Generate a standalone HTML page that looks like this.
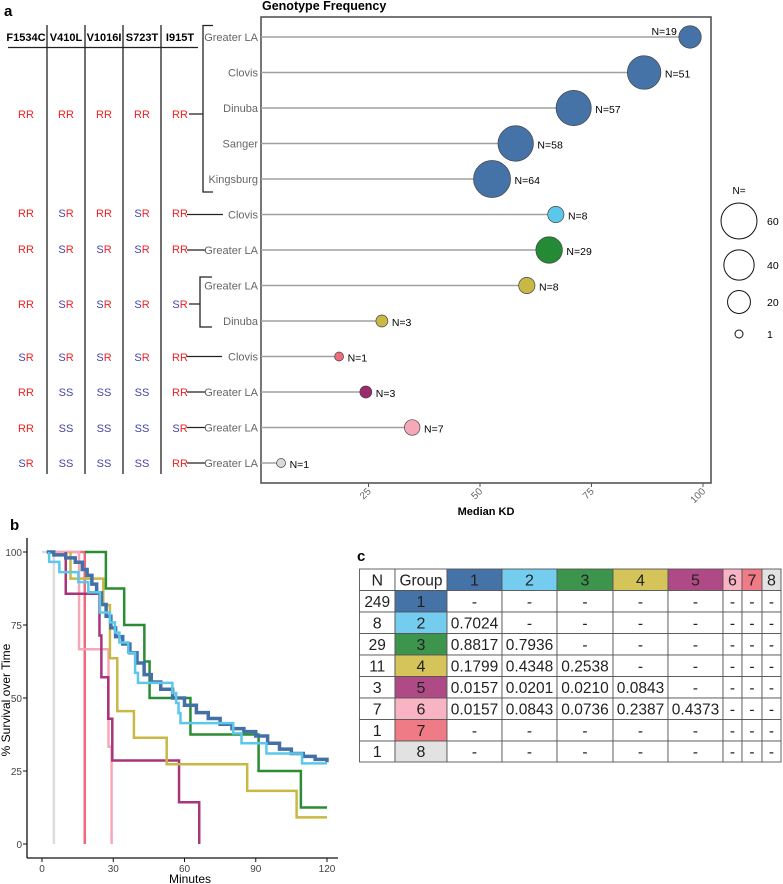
<!DOCTYPE html>
<html><head><meta charset="utf-8"><style>
html,body{margin:0;padding:0;background:#fff;}
svg{display:block;font-family:"Liberation Sans",sans-serif;}
</style></head><body>
<svg id="fig" width="783" height="884" viewBox="0 0 783 884" xmlns="http://www.w3.org/2000/svg">
<text x="4" y="16" font-size="15" font-weight="bold">a</text>
<text x="262" y="10" font-size="12.5" font-weight="bold">Genotype Frequency</text>
<g id="geno"></g>
<g id="lolli"></g>
<g id="legend"></g>
<text x="10" y="530" font-size="15" font-weight="bold">b</text>
<g id="surv"></g>
<text x="357" y="561" font-size="15" font-weight="bold">c</text>
<g id="tbl"></g>
</svg>
<script>
// ---------- Panel a data ----------
const genes = ['F1534C','V410L','V1016I','S723T','I915T'];
const genoRows = [['RR','RR','RR','RR','RR'],['RR','SR','RR','SR','RR'],['RR','SR','SR','SR','RR'],['RR','SR','SR','SR','SR'],['SR','SR','SR','SR','RR'],['RR','SS','SS','SS','RR'],['RR','SS','SS','SS','SR'],['SR','SS','SS','SS','RR']];
const sites = ['Greater LA','Clovis','Dinuba','Sanger','Kingsburg','Clovis','Greater LA','Greater LA','Dinuba','Clovis','Greater LA','Greater LA','Greater LA'];
const medianKD = [97.1,86.8,71,58,52.7,67,65.5,60.5,28,18.4,24.4,34.8,5.4];
const counts = [19,51,57,58,64,8,29,8,3,1,3,7,1];
const siteColors = ['#4573a7','#4573a7','#4573a7','#4573a7','#4573a7','#5bc7ea','#248a35','#c9b845','#c9b845','#ef6a7a','#9b2a6e','#f5a9b8','#d9d9d9'];
const kdTicks = [25,50,75,100];
const legendN = [60,40,20,1];
// ---------- Panel b data ----------
const survTicksX = [0,30,60,90,120];
const survTicksY = [0,25,50,75,100];
const gGray = [[0,100],[5,0]];
const gRed = [[6,100],[18,0]];
const gPink = [[6,100],[15.6,66.7],[28,33.3],[29.3,0]];
const gPurple = [[10,100],[10,85.7],[24.2,71.4],[25,57.1],[27.9,42.9],[29.6,28.6],[57.7,14.3],[66.2,0]];
const gYellow = [[12,100],[12,90.9],[25.8,81.8],[28.6,63.6],[31.7,45.5],[38.7,36.4],[52.5,27.3],[86.4,18.2],[107.2,9.1],[120,9.1]];
const gGreen = [[18,100],[26.9,87.5],[34.6,75],[43.1,62.5],[45.3,50],[62.5,37.5],[91.2,25],[109,12.5],[120,12.5]];
const gLight = [[3,100],[3,96.6],[7.3,93.1],[15.3,89.7],[19.5,86.2],[24.4,79.3],[28.6,75.9],[30.7,72.4],[32.6,69],[36.3,65.5],[39.2,58.6],[40.4,55.2],[54.9,51.7],[56.5,48.3],[57.5,44.8],[58.3,41.4],[80.5,37.9],[84,34.5],[94.5,31],[109.5,27.6],[120,27.6]];
const gBlue = [[2,100],[5,99],[10,98],[14,96.5],[17,94],[19,92],[21,89],[23,86],[25,82],[27,78],[29,74],[31,71],[34,68.5],[37,65.5],[40,62],[43,58],[46,55.5],[50,53],[55,50],[60,47.5],[65,45],[70,43],[75,41],[80,39.5],[85,38.5],[90,37],[95,34.5],[100,32.5],[105,31],[110,30],[115,29],[120,28]];
// ---------- Panel c data ----------
const groupN = ['249','8','29','11','3','7','1','1'];
const groupColors = ['#4573a7','#74cdee','#3d944d','#d4c45a','#b04a86','#f9b4c4','#ee7b86','#e2e2e2'];
const pRows = [[],['0.7024'],['0.8817','0.7936'],['0.1799','0.4348','0.2538'],['0.0157','0.0201','0.0210','0.0843'],['0.0157','0.0843','0.0736','0.2387','0.4373'],[],[]];

const NS='http://www.w3.org/2000/svg';
function mk(tag, attrs, parent, txt){const e=document.createElementNS(NS,tag);for(const k in attrs)e.setAttribute(k,attrs[k]);if(txt!==undefined)e.textContent=txt;parent.appendChild(e);return e;}

// ---- genotype table ----
const geno=document.getElementById('geno');
const colX=[26,66,104,142,180];
genes.forEach((g,i)=>{const t=mk('text',{x:colX[i],y:41,'font-size':11,'font-weight':'bold','text-anchor':'middle'},geno,g);

});
mk('line',{x1:8,y1:47.5,x2:198,y2:47.5,stroke:'#222','stroke-width':1.3},geno);
[47,85,123,161].forEach(x=>mk('line',{x1:x,y1:25,x2:x,y2:474,stroke:'#222','stroke-width':1.3},geno));
const gy=[114,213,249,304,357,392,428,463];
genoRows.forEach((r,ri)=>r.forEach((c,ci)=>{const t=mk('text',{x:colX[ci],y:gy[ri]+4,'font-size':11,'text-anchor':'middle'},geno);


for(const ch of c)mk('tspan',{fill:ch==='S'?'#4444aa':'#ee2222'},t,ch);}));
// connectors / brackets
const rowY=i=>37+i*35.5;
mk('path',{d:'M189 114H203 M213 25.5H203V192H213',fill:'none',stroke:'#222','stroke-width':1.3},geno);
mk('line',{x1:187,y1:rowY(5),x2:223,y2:rowY(5),stroke:'#222','stroke-width':1.3},geno);
mk('line',{x1:187,y1:rowY(6),x2:206,y2:rowY(6),stroke:'#222','stroke-width':1.3},geno);
mk('path',{d:'M189 304H200 M212 277H200V327H212',fill:'none',stroke:'#222','stroke-width':1.3},geno);
mk('line',{x1:187,y1:rowY(9),x2:222,y2:rowY(9),stroke:'#222','stroke-width':1.3},geno);
[10,11,12].forEach(i=>mk('line',{x1:187,y1:rowY(i),x2:205,y2:rowY(i),stroke:'#222','stroke-width':1.3},geno));

// ---- lollipop ----
const lol=document.getElementById('lolli');
const xK=v=>257+4.46*v;
const rN=n=>2.5+2*Math.sqrt(n);
mk('rect',{x:261,y:17,width:450,height:466,fill:'none',stroke:'#555','stroke-width':1.6},lol);
kdTicks.forEach(v=>{const x=xK(v);mk('line',{x1:x,y1:483,x2:x,y2:487,stroke:'#555'},lol);
const t=mk('text',{x:x+3,y:492,'font-size':10,fill:'#666','text-anchor':'end',transform:`rotate(-45 ${x+3} 492)`},lol,String(v));

});
const xt=mk('text',{x:486,y:515,'font-size':11,'font-weight':'bold','text-anchor':'middle'},lol,'Median KD');


sites.forEach((s,i)=>{const y=rowY(i),cx=xK(medianKD[i]),r=rN(counts[i]);
const lb=mk('text',{x:258,y:y+4,'font-size':11,fill:'#666','text-anchor':'end'},lol,s);


mk('line',{x1:261,y1:y,x2:cx,y2:y,stroke:'#a0a0a0','stroke-width':1.6},lol);
const c=mk('circle',{cx:cx,cy:y,r:r,fill:siteColors[i],stroke:'#444','stroke-width':0.7},lol);


let nt;
if(i===0) nt=mk('text',{x:cx-r-2,y:y-2,'font-size':10.5,'text-anchor':'end'},lol,'N='+counts[i]);
else nt=mk('text',{x:cx+r+4,y:y+5,'font-size':10.5},lol,'N='+counts[i]);

});
// legend
const lg=document.getElementById('legend');
mk('text',{x:739,y:194,'font-size':10,'text-anchor':'middle'},lg,'N=');
const legY=[221,265,302,334];
legendN.forEach((n,i)=>{const c=mk('circle',{cx:739,cy:legY[i],r:rN(n)-(n===1?0.5:0),fill:'none',stroke:'#111','stroke-width':1},lg);


const t=mk('text',{x:767,y:legY[i]+4,'font-size':10.5},lg,String(n));

});

// ---- survival ----
const sv=document.getElementById('surv');
const xS=m=>42+2.375*m, yS=p=>844-2.92*p;
mk('line',{x1:27,y1:538,x2:27,y2:858,stroke:'#111','stroke-width':1.3},sv);
mk('line',{x1:27,y1:858,x2:338,y2:858,stroke:'#111','stroke-width':1.3},sv);
survTicksX.forEach(v=>{mk('line',{x1:xS(v),y1:858,x2:xS(v),y2:862,stroke:'#111'},sv);
const t=mk('text',{x:xS(v),y:872,'font-size':10,fill:'#444','text-anchor':'middle'},sv,String(v));

});
survTicksY.forEach(v=>{mk('line',{x1:23,y1:yS(v),x2:27,y2:yS(v),stroke:'#111'},sv);
const t=mk('text',{x:22,y:yS(v)+4,'font-size':10,fill:'#444','text-anchor':'end'},sv,String(v));

});
const sx=mk('text',{x:190,y:883,'font-size':12,'text-anchor':'middle'},sv,'Minutes');


const sy=mk('text',{x:10,y:700,'font-size':12,'text-anchor':'middle',transform:'rotate(-90 10 700)'},sv,'% Survival over Time');


function stepPath(pts){let d=`M${xS(pts[0][0])} ${yS(pts[0][1])}`;for(let i=1;i<pts.length;i++){d+=`H${xS(pts[i][0])}V${yS(pts[i][1])}`;}return d;}
const series=[[gGray,'#dcdcdc',2.5,'curve-group-8'],[gRed,'#ef6a7a',2.5,'curve-group-7'],[gPink,'#f7a8b8',2.5,'curve-group-6'],[gPurple,'#a8347a',2.5,'curve-group-5'],[gYellow,'#c9b845',2.5,'curve-group-4'],[gGreen,'#2a8c34',2.5,'curve-group-3'],[gBlue,'#4470a8',3.5,'curve-group-1'],[gLight,'#5bc7ea',2.5,'curve-group-2']];
series.forEach(s=>{const p=mk('path',{d:stepPath(s[0]),fill:'none',stroke:s[1],'stroke-width':s[2]},sv);

});

// ---- table ----
const tb=document.getElementById('tbl');
const cx=[359.5,395,447,502,557,613,668,723,742,762,781];
const ry=[569,590.5,612,633.5,655,676.5,698,719.5,741,762];
function cell(ci,ri,fill,txt,name){const r=mk('rect',{x:cx[ci],y:ry[ri],width:cx[ci+1]-cx[ci],height:ry[ri+1]-ry[ri],fill:fill,stroke:'#555','stroke-width':0.9},tb);


const t=mk('text',{x:(cx[ci]+cx[ci+1])/2,y:(ry[ri]+ry[ri+1])/2+5.5,'font-size':txt.length===1&&txt!=='-'?16:15.5,fill:'#222','text-anchor':'middle'},tb,txt);

}
cell(0,0,'#fff','N','header-n');
cell(1,0,'#fff','Group','header-group');
for(let j=0;j<8;j++)cell(2+j,0,groupColors[j],String(j+1),'header-group-'+(j+1));
for(let i=0;i<8;i++){cell(0,i+1,'#fff',groupN[i],'n-cell');cell(1,i+1,groupColors[i],String(i+1),'group-cell');
for(let j=0;j<8;j++)cell(2+j,i+1,'#fff',pRows[i][j]||'-','p-value-cell');}
</script>
</body></html>
